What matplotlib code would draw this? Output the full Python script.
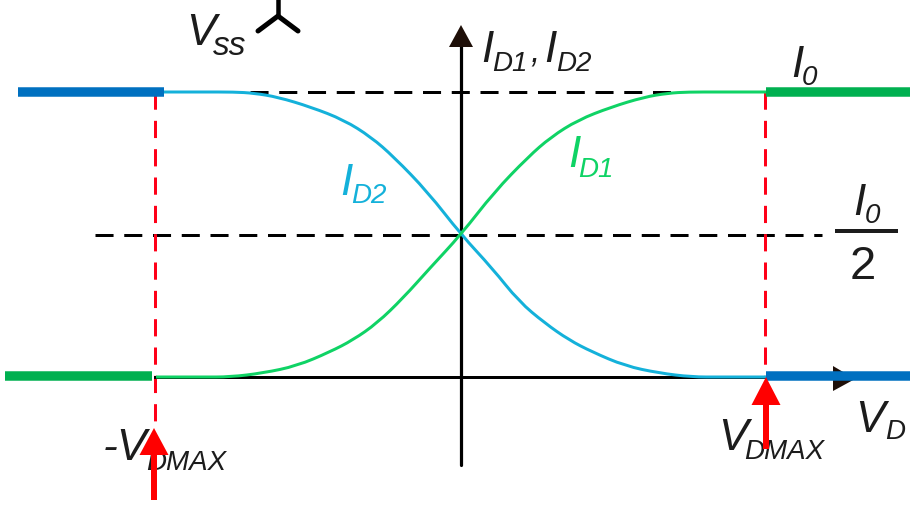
import matplotlib
matplotlib.use("Agg")
import matplotlib.pyplot as plt
from matplotlib.patches import PathPatch
from matplotlib.path import Path
import numpy as np

plt.rcParams["font.family"] = ["Liberation Sans", "DejaVu Sans"]
plt.rcParams["lines.scale_dashes"] = False

# values: V / VDMAX and I / I0
v_d1 = [-1.0, -0.85, -0.757, -0.649, -0.538, -0.43, -0.354, -0.275, -0.19, -0.102,
        0.0, 0.109, 0.22, 0.295, 0.384, 0.492, 0.6, 0.679, 0.744, 0.85, 1.0]
i_d1 = [0.0, 0.0, 0.0, 0.014, 0.039, 0.088, 0.13, 0.189, 0.277, 0.382,
        0.5, 0.649, 0.772, 0.842, 0.902, 0.947, 0.982, 0.996, 1.0, 1.0, 1.0]
v_d2 = [-1.0, -0.85, -0.744, -0.679, -0.6, -0.492, -0.384, -0.295, -0.22, -0.109,
        0.0, 0.102, 0.19, 0.275, 0.354, 0.43, 0.538, 0.649, 0.757, 0.85, 1.0]
i_d2 = [1.0, 1.0, 1.0, 0.996, 0.982, 0.947, 0.902, 0.842, 0.772, 0.649,
        0.5, 0.382, 0.265, 0.189, 0.13, 0.088, 0.039, 0.014, 0.0, 0.0, 0.0]

sat_left = [-1.452, -0.974]
sat_right = [1.0, 1.48]
sat_low_left = [-1.495, -1.013]
level_high = 1.0
level_low = 0.0035
level_half = 0.5

BLUE = "#0070C0"
GREEN = "#00B050"
CYAN = "#14B1DA"
LIME = "#0FD365"
TEXT = "#1c1c1c"

# image size and where the origin / scale sit in pixels
W, H = 910, 509
X0, Y0 = 461, 377
SX, SY = 305, 285


def px(x, y):
    # pixel position in the image -> data units
    return (x - X0) / SX, (Y0 - y) / SY


def smooth(xs, ys, color, z):
    # read points act as bezier control points, so the line has no corners
    pts = np.column_stack([xs, ys])
    verts = [pts[0]]
    codes = [Path.MOVETO]
    for i in range(1, len(pts) - 1):
        end = pts[i + 1] if i == len(pts) - 2 else (pts[i] + pts[i + 1]) / 2
        verts += [pts[i], end]
        codes += [Path.CURVE3, Path.CURVE3]
    ax.add_patch(PathPatch(Path(verts, codes), fill=False, edgecolor=color, lw=3 * LW, zorder=z))


fig = plt.figure(figsize=(W / 100, H / 100), dpi=100)
ax = fig.add_axes([0, 0, 1, 1])
ax.set_xlim(px(0, 0)[0], px(W, 0)[0])
ax.set_ylim(px(0, H)[1], px(0, 0)[1])
ax.axis("off")

LW = 0.72  # points per pixel

# dashed guides
dash_k = (0, (13, 7.7))
dash_r = (0, (12.4, 8))
ax.plot([px(250, 0)[0], px(680, 0)[0]], [level_high] * 2, color="black", lw=3 * LW, linestyle=dash_k, zorder=1)
ax.plot([px(95, 0)[0], px(822, 0)[0]], [level_half] * 2, color="black", lw=3 * LW, linestyle=dash_k, zorder=1)
ax.plot([-1.003, -1.003], [level_high, px(0, 422)[1]], color="#FF0018", lw=3 * LW, linestyle=dash_r, zorder=2)
ax.plot([0.998, 0.998], [level_high, level_low], color="#FF0018", lw=3 * LW, linestyle=dash_r, zorder=2)

# axes
ax.plot([px(155, 0)[0], px(840, 0)[0]], [0, 0], color="black", lw=3 * LW, zorder=3)
ax.plot([0, 0], [px(0, 465)[1], px(0, 40)[1]], color="black", lw=3.2 * LW, solid_capstyle="round", zorder=3)


def tri(points, color, z):
    xy = np.array([px(a, b) for a, b in points])
    ax.fill(xy[:, 0], xy[:, 1], color=color, lw=0, zorder=z)


tri([(461, 25), (449, 47), (473, 47)], "#1e0f08", 3)
tri([(855, 379), (833, 366), (833, 391)], "#1e0f08", 3)

# curves
smooth(v_d2, i_d2, CYAN, 4)
smooth(v_d1, i_d1, LIME, 5)

# thick saturation segments
ax.plot(sat_left, [level_high] * 2, color=BLUE, lw=9.5 * LW, solid_capstyle="butt", zorder=6)
ax.plot(sat_right, [level_high] * 2, color=GREEN, lw=9.5 * LW, solid_capstyle="butt", zorder=6)
ax.plot(sat_low_left, [level_low] * 2, color=GREEN, lw=9.5 * LW, solid_capstyle="butt", zorder=6)
ax.plot(sat_right, [level_low] * 2, color=BLUE, lw=9.5 * LW, solid_capstyle="butt", zorder=6)


# text, placed by baseline in pixels
def label(x, y, s, size, color=TEXT, style="italic"):
    a, b = px(x, y)
    ax.text(a, b, s, fontsize=size, color=color, style=style, ha="left", va="baseline", zorder=7)


BIG = 32
SUB = 20

label(186, 45, "V", BIG)
label(213, 55, "ss", SUB + 4)
label(481, 62, "I", BIG)
label(492, 71, "D1", SUB)
label(530, 62, ",", BIG - 8)
label(544, 62, "I", BIG)
label(556, 71, "D2", SUB)
label(340, 195, "I", BIG, CYAN)
label(351, 203, "D2", SUB, CYAN)
label(568, 167, "I", BIG, LIME)
label(578, 177, "D1", SUB, LIME)
label(791, 77, "I", BIG)
label(802, 85, "0", SUB)
label(853, 215, "I", BIG)
label(865, 223, "0", SUB)
label(850, 279, "2", BIG + 2, style="normal")
label(103, 460, "-V", BIG)
label(146, 470, "DMAX", SUB)
label(718, 450, "V", BIG)
label(744, 459, "DMAX", SUB)
label(855, 432, "V", BIG)
label(885, 439, "D", SUB)

# I0 / 2 fraction bar
ax.plot([px(837, 0)[0], px(896, 0)[0]], [px(0, 231)[1]] * 2, color=TEXT, lw=4 * LW, zorder=7)

# Vss supply symbol
sym = np.array([px(278, 0), px(278, 16)])
ax.plot(sym[:, 0], sym[:, 1], color="black", lw=4.5 * LW, zorder=7)
sym = np.array([px(258, 31), px(278, 16), px(298, 31)])
ax.plot(sym[:, 0], sym[:, 1], color="black", lw=5 * LW, solid_capstyle="round", zorder=7)

# red arrows
for x, tip, base, tail in [(154, 428, 455, 500), (766, 377, 405, 449)]:
    tri([(x, tip), (x - 14.5, base), (x + 14.5, base)], "#FF0000", 8)
    tri([(x - 3, base - 1), (x + 3, base - 1), (x + 3, tail), (x - 3, tail)], "#FF0000", 8)

fig.savefig("out.png", dpi=100)
